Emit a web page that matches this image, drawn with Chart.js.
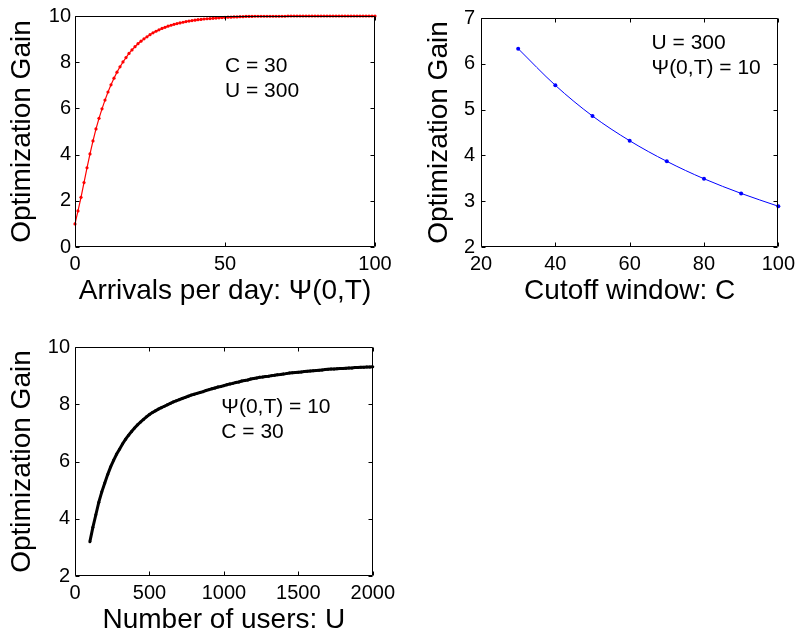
<!DOCTYPE html>
<html>
<head>
<meta charset="utf-8">
<script src="https://cdn.jsdelivr.net/npm/chart.js@4.4.1/dist/chart.umd.min.js"></script>
<style>
    body { margin: 0; background: #fff; }
    #wrap { position: relative; width: 800px; height: 634px; }
    canvas { position: absolute; }
</style>
</head>
<body>
<div id="wrap">
    <canvas id="arrivalsChart" width="400" height="320" style="left:0;top:0"></canvas>
    <canvas id="cutoffChart" width="400" height="320" style="left:400px;top:0"></canvas>
    <canvas id="usersChart" width="400" height="304" style="left:0;top:330px"></canvas>
</div>
<script>
// panel 1: gain vs arrivals per day (C = 30, U = 300)
const arrivals = [
    0, 1, 2, 3, 4, 5, 6, 7, 8, 9,
    10, 11, 12, 13, 14, 15, 16, 17, 18, 19,
    20, 21, 22, 23, 24, 25, 26, 27, 28, 29,
    30, 31, 32, 33, 34, 35, 36, 37, 38, 39,
    40, 41, 42, 43, 44, 45, 46, 47, 48, 49,
    50, 51, 52, 53, 54, 55, 56, 57, 58, 59,
    60, 61, 62, 63, 64, 65, 66, 67, 68, 69,
    70, 71, 72, 73, 74, 75, 76, 77, 78, 79,
    80, 81, 82, 83, 84, 85, 86, 87, 88, 89,
    90, 91, 92, 93, 94, 95, 96, 97, 98, 99,
    100
];
const arrivalsGain = [
    1.00, 1.56, 2.15, 2.79, 3.43, 4.03, 4.59, 5.11, 5.57, 5.98,
    6.36, 6.71, 7.02, 7.31, 7.57, 7.80, 8.01, 8.20, 8.38, 8.53,
    8.67, 8.80, 8.91, 9.01, 9.10, 9.19, 9.27, 9.34, 9.40, 9.46,
    9.51, 9.56, 9.60, 9.64, 9.67, 9.70, 9.73, 9.76, 9.78, 9.80,
    9.82, 9.84, 9.85, 9.87, 9.88, 9.89, 9.90, 9.91, 9.92, 9.93,
    9.94, 9.95, 9.95, 9.96, 9.96, 9.97, 9.97, 9.98, 9.98, 9.98,
    9.99, 9.99, 9.99, 9.99, 9.99, 9.99, 9.99, 9.99, 9.99, 9.99,
    9.99, 10, 10, 10, 10, 10, 10, 10, 10, 10,
    10, 10, 10, 10, 10, 10, 10, 10, 10, 10,
    10, 10, 10, 10, 10, 10, 10, 10, 10, 10,
    10
];

// panel 2: gain vs cutoff window (U = 300, psi = 10)
const cutoff = [30, 40, 50, 60, 70, 80, 90, 100];
const cutoffGain = [6.33, 5.53, 4.86, 4.32, 3.87, 3.49, 3.17, 2.89];

// panel 3: gain vs number of users (psi = 10, C = 30)
const users = [
    100, 120, 140, 160, 180, 200, 220, 240, 260, 280,
    300, 320, 340, 360, 380, 400, 420, 440, 460, 480,
    500, 520, 540, 560, 580, 600, 620, 640, 660, 680,
    700, 720, 740, 760, 780, 800, 820, 840, 860, 880,
    900, 920, 940, 960, 980, 1000, 1020, 1040, 1060, 1080,
    1100, 1120, 1140, 1160, 1180, 1200, 1220, 1240, 1260, 1280,
    1300, 1320, 1340, 1360, 1380, 1400, 1420, 1440, 1460, 1480,
    1500, 1520, 1540, 1560, 1580, 1600, 1620, 1640, 1660, 1680,
    1700, 1720, 1740, 1760, 1780, 1800, 1820, 1840, 1860, 1880,
    1900, 1920, 1940, 1960, 1980, 2000
];
const usersGain = [
    3.20, 3.70, 4.14, 4.58, 4.94, 5.25, 5.55, 5.82, 6.05, 6.26,
    6.44, 6.62, 6.78, 6.92, 7.05, 7.17, 7.28, 7.38, 7.47, 7.56,
    7.64, 7.71, 7.77, 7.83, 7.88, 7.93, 7.98, 8.03, 8.08, 8.12,
    8.16, 8.20, 8.24, 8.28, 8.32, 8.35, 8.38, 8.41, 8.44, 8.48,
    8.51, 8.54, 8.57, 8.60, 8.62, 8.65, 8.68, 8.71, 8.73, 8.76,
    8.78, 8.81, 8.83, 8.85, 8.88, 8.90, 8.92, 8.94, 8.95, 8.97,
    8.98, 9.00, 9.01, 9.03, 9.04, 9.06, 9.07, 9.09, 9.10, 9.11,
    9.12, 9.13, 9.14, 9.15, 9.16, 9.17, 9.18, 9.19, 9.20, 9.21,
    9.22, 9.23, 9.23, 9.24, 9.25, 9.25, 9.26, 9.27, 9.27, 9.28,
    9.28, 9.29, 9.29, 9.30, 9.30, 9.31
];

const FONT = '"Liberation Sans", Arial, Helvetica, sans-serif';
Chart.defaults.color = '#000';
Chart.defaults.font.family = FONT;

// matlab style box: frame, inward ticks on all sides, and the text notes
const matlabBox = {
    id: 'matlabBox',
    afterDatasetsDraw(chart, args, opts) {
        const { ctx, chartArea: a, scales: { x, y } } = chart;
        const L = Math.round(a.left) + 0.5, R = Math.round(a.right) - 0.5;
        const T = Math.round(a.top) + 0.5, B = Math.round(a.bottom) - 0.5;
        ctx.save();
        ctx.strokeStyle = '#000';
        ctx.lineWidth = 1;
        ctx.beginPath();
        ctx.rect(L, T, R - L, B - T);
        x.ticks.forEach((t, i) => {
            const px = Math.round(x.getPixelForTick(i)) + 0.5;
            ctx.moveTo(px, B); ctx.lineTo(px, B - 4);
            ctx.moveTo(px, T); ctx.lineTo(px, T + 4);
        });
        y.ticks.forEach((t, i) => {
            const py = Math.round(y.getPixelForTick(i)) + 0.5;
            ctx.moveTo(L, py); ctx.lineTo(L + 4, py);
            ctx.moveTo(R, py); ctx.lineTo(R - 4, py);
        });
        ctx.stroke();

        if (opts.notes) {
            const n = opts.notes;
            ctx.fillStyle = '#000';
            ctx.font = '21px ' + FONT;
            ctx.textAlign = 'left';
            ctx.textBaseline = 'alphabetic';
            const px = x.getPixelForValue(n.x);
            const py = y.getPixelForValue(n.y);
            n.lines.forEach((line, i) => ctx.fillText(line, px, py + i * 25.5));
        }
        ctx.restore();
    }
};

function makePanel(id, cfg) {
    const points = cfg.xs.map((v, i) => ({ x: v, y: cfg.ys[i] }));
    return new Chart(document.getElementById(id), {
        type: 'line',
        data: {
            datasets: [{
                data: points,
                borderColor: cfg.color,
                backgroundColor: cfg.color,
                borderWidth: cfg.lineWidth,
                pointRadius: cfg.pointRadius,
                pointBorderWidth: 0,
                pointBackgroundColor: cfg.color,
                cubicInterpolationMode: cfg.smooth ? 'monotone' : 'default',
                tension: 0,
                clip: false,
            }]
        },
        options: {
            responsive: false,
            animation: false,
            events: [],
            layout: { padding: { top: cfg.padTop, right: cfg.padRight, left: 0, bottom: 0 } },
            plugins: {
                legend: { display: false },
                tooltip: { enabled: false },
                matlabBox: { notes: cfg.notes },
            },
            scales: {
                x: {
                    type: 'linear',
                    min: cfg.xMin, max: cfg.xMax,
                    ticks: { stepSize: cfg.xStep, padding: 5, maxRotation: 0, autoSkip: false, font: { size: 20 }, callback: (v) => String(v) },
                    grid: { display: false, drawTicks: false },
                    border: { display: false },
                    title: { display: true, text: cfg.xTitle, font: { size: 28, lineHeight: 1 }, padding: { top: 0, bottom: cfg.xTitlePad } },
                    afterFit: (s) => { s.height = cfg.xHeight; },
                },
                y: {
                    type: 'linear',
                    min: cfg.yMin, max: cfg.yMax,
                    ticks: { stepSize: cfg.yStep, padding: cfg.yTickPad, autoSkip: false, font: { size: 20 }, callback: (v) => String(v) },
                    grid: { display: false, drawTicks: false },
                    border: { display: false },
                    title: { display: true, text: 'Optimization Gain', font: { size: 28, lineHeight: 1 }, padding: { top: cfg.yTitlePad, bottom: 0 } },
                    afterFit: (s) => { s.width = cfg.yWidth; },
                }
            }
        },
        plugins: [matlabBox]
    });
}

makePanel('arrivalsChart', {
    xs: arrivals, ys: arrivalsGain,
    color: '#ff0000', lineWidth: 1.2, pointRadius: 1.6,
    xMin: 0, xMax: 100, xStep: 50,
    yMin: 0, yMax: 10, yStep: 2,
    xTitle: 'Arrivals per day: \u03A8(0,T)',
    padTop: 15, padRight: 25, yWidth: 75, xHeight: 73, xTitlePad: 15,
    yTitlePad: 8, yTickPad: 4,
    notes: { x: 50, y: 7.59, lines: ['C = 30', 'U = 300'] },
});

makePanel('cutoffChart', {
    xs: cutoff, ys: cutoffGain,
    color: '#0000ff', lineWidth: 1, pointRadius: 2, smooth: true,
    xMin: 20, xMax: 100, xStep: 20,
    yMin: 2, yMax: 7, yStep: 1,
    xTitle: 'Cutoff window: C',
    padTop: 15, padRight: 19, yWidth: 81, xHeight: 73, xTitlePad: 15,
    yTitlePad: 25, yTickPad: 6,
    notes: { x: 65.9, y: 6.33, lines: ['U = 300', '\u03A8(0,T) = 10'] },
});

makePanel('usersChart', {
    xs: users, ys: usersGain,
    color: '#000000', lineWidth: 3, pointRadius: 1.5,
    xMin: 0, xMax: 2000, xStep: 500,
    yMin: 2, yMax: 10, yStep: 2,
    xTitle: 'Number of users: U',
    padTop: 12, padRight: 25, yWidth: 75, xHeight: 58, xTitlePad: 0,
    yTitlePad: 8, yTickPad: 5,
    notes: { x: 983, y: 7.71, lines: ['\u03A8(0,T) = 10', 'C = 30'] },
});
</script>
</body>
</html>
